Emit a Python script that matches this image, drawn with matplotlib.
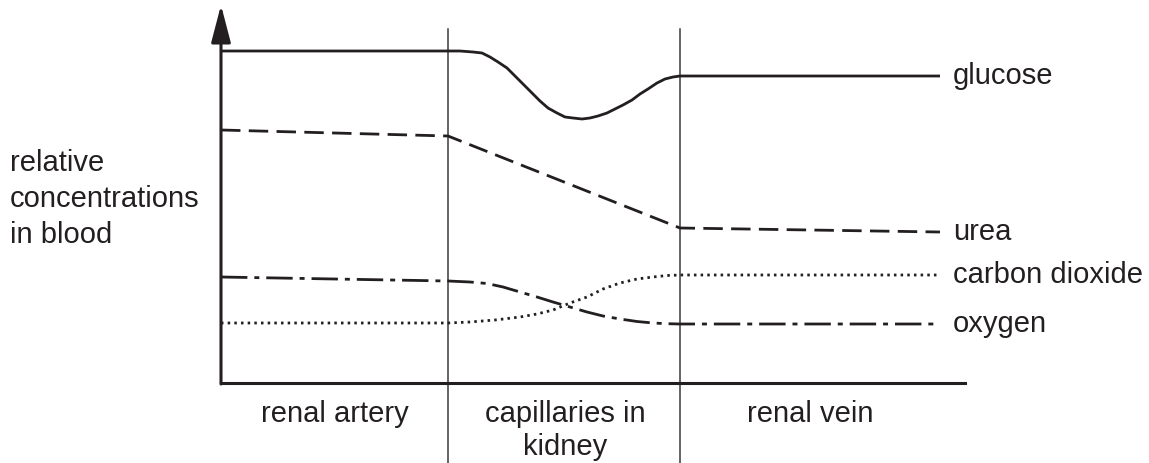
import matplotlib
matplotlib.use("Agg")
import matplotlib.pyplot as plt

# ---------------- DATA (arbitrary units along the blood path) ----------------
REGION_EDGES = [22.7, 45.9]          # artery | capillaries | vein
REGION_NAMES = ["renal artery", "capillaries in\nkidney", "renal vein"]
REGION_CENTRES = [11.4, 34.4, 58.9]

glucose_x = [0, 22.7, 23.9, 25.2, 26.1, 26.9, 27.7, 28.6, 29.4, 30.2, 31.1,
             31.9, 32.7, 33.6, 34.4, 35.2, 36.1, 36.9, 37.7, 38.6, 39.4,
             40.2, 41.1, 41.9, 42.7, 43.6, 44.4, 45.2, 45.9, 71.9]
glucose_y = [33.2, 33.2, 33.2, 33.1, 33.0, 32.6, 32.1, 31.5, 30.7, 29.9, 29.0,
             28.2, 27.5, 27.0, 26.6, 26.5, 26.4, 26.5, 26.7, 27.0, 27.4,
             27.8, 28.3, 28.9, 29.4, 30.0, 30.4, 30.6, 30.7, 30.7]

urea_x = [0, 22.7, 45.9, 71.9]
urea_y = [25.3, 24.7, 15.5, 15.1]

co2_x = [0, 22.7, 24.9, 27.4, 29.9, 31.6, 33.2, 34.9, 36.6, 38.2, 39.9, 41.6,
         43.2, 44.6, 45.9, 71.9]
co2_y = [6.0, 6.0, 6.1, 6.3, 6.6, 6.9, 7.3, 8.0, 8.6, 9.4, 10.0, 10.4,
         10.6, 10.75, 10.8, 10.8]

oxygen_x = [0, 22.7, 24.9, 26.6, 28.2, 29.9, 31.6, 33.2, 34.9, 36.6, 38.2,
            39.9, 41.6, 43.2, 44.6, 45.9, 71.9]
oxygen_y = [10.6, 10.2, 10.1, 9.95, 9.6, 9.1, 8.6, 8.1, 7.6, 7.1, 6.7,
            6.4, 6.15, 6.0, 5.93, 5.9, 5.9]

SERIES = [
    ("glucose", glucose_x, glucose_y, "-"),
    ("urea", urea_x, urea_y, (0, (7, 3))),
    ("carbon dioxide", co2_x, co2_y, (0, (0.9, 1.5))),
    ("oxygen", oxygen_x, oxygen_y, (0, (9.5, 2.5, 1.8, 2.5))),
]

INK = "#231f20"
plt.rcParams["font.family"] = ["Liberation Sans", "DejaVu Sans"]

# ---------------- FIGURE ----------------
W, H = 1149, 463
fig = plt.figure(figsize=(W / 100, H / 100), dpi=100)
ax = fig.add_axes([221 / W, (H - 383) / H, (965 - 221) / W, (383 - 5) / H])
ax.set_xlim(0, 74.4)
ax.set_ylim(0, 37.8)

for spine in ("top", "right", "left"):
    ax.spines[spine].set_visible(False)
ax.spines["bottom"].set_linewidth(2.2)
ax.spines["bottom"].set_color(INK)
ax.set_xticks([])
ax.set_yticks([])

# y axis with arrow head
ax.annotate("", xy=(0, 37.8), xytext=(0, -0.1),
            arrowprops=dict(arrowstyle="-|>,head_length=1.15,head_width=0.3",
                            lw=2.2, color=INK, mutation_scale=20,
                            shrinkA=0, shrinkB=0),
            annotation_clip=False)

# region separators
for edge in REGION_EDGES:
    ax.plot([edge, edge], [-8.0, 35.4], color="#3a3a3a", lw=1.1, clip_on=False)

for name, xs, ys, ls in SERIES:
    ax.plot(xs, ys, color=INK, lw=2.0, linestyle=ls, clip_on=False,
            solid_capstyle="butt", dash_capstyle="butt",
            solid_joinstyle="round", dash_joinstyle="round")
    ax.text(73.2, ys[-1], name, fontsize=21, color=INK, va="center", ha="left")

for name, cx in zip(REGION_NAMES, REGION_CENTRES):
    ax.text(cx, -1.7, name, fontsize=21, color=INK, ha="center", va="top",
            linespacing=1.22)

fig.text(10 / W, 1 - 199 / H, "relative\nconcentrations\nin blood", fontsize=21,
         color=INK, ha="left", va="center", linespacing=1.35)

fig.savefig("out.png", dpi=100)
